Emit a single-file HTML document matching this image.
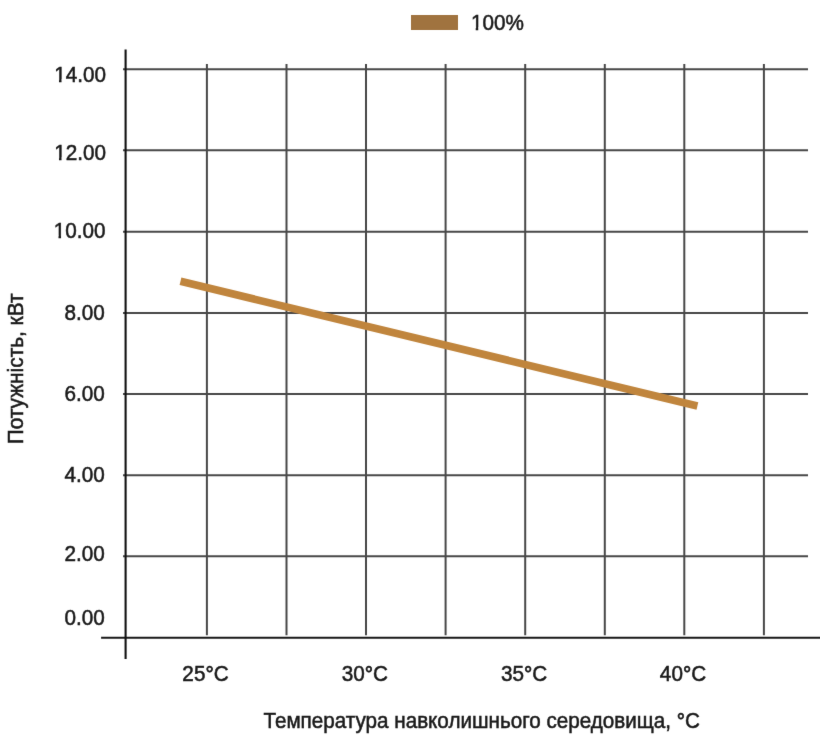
<!DOCTYPE html>
<html>
<head>
<meta charset="utf-8">
<style>
html,body{margin:0;padding:0;background:#fff;}
body{width:820px;height:739px;overflow:hidden;}
svg{display:block;}
text{font-family:"Liberation Sans",Arial,sans-serif;fill:#1a1a1a;stroke:#1a1a1a;stroke-width:0.55px;}
</style>
</head>
<body>
<svg width="820" height="739" viewBox="0 0 820 739">

<defs><filter id="soft" filterUnits="userSpaceOnUse" x="0" y="0" width="820" height="739" color-interpolation-filters="sRGB"><feConvolveMatrix order="3" kernelMatrix="0.00524 0.06192 0.00524 0.06192 0.73137 0.06192 0.00524 0.06192 0.00524" divisor="1" edgeMode="duplicate"/></filter></defs>
<g filter="url(#soft)">
<rect x="0" y="0" width="820" height="739" fill="#fff"/>
<rect x="411" y="15" width="47" height="15" fill="#a0733f"/>
<text transform="translate(470.9,30.0) scale(0.95,1)" text-anchor="start" font-size="21.8">100%</text>
<g stroke="#484848" stroke-width="2">
<line x1="123" y1="69.3" x2="808" y2="69.3"/>
<line x1="123" y1="150.3" x2="808" y2="150.3"/>
<line x1="123" y1="231.7" x2="808" y2="231.7"/>
<line x1="123" y1="312.9" x2="808" y2="312.9"/>
<line x1="123" y1="393.9" x2="808" y2="393.9"/>
<line x1="123" y1="475.2" x2="808" y2="475.2"/>
<line x1="123" y1="556.3" x2="808" y2="556.3"/>
</g>
<g stroke="#484848" stroke-width="2">
<line x1="206.9" y1="64" x2="206.9" y2="635.2"/>
<line x1="286.5" y1="64" x2="286.5" y2="635.2"/>
<line x1="366.0" y1="64" x2="366.0" y2="635.2"/>
<line x1="445.6" y1="64" x2="445.6" y2="635.2"/>
<line x1="525.2" y1="64" x2="525.2" y2="635.2"/>
<line x1="604.8" y1="64" x2="604.8" y2="635.2"/>
<line x1="684.3" y1="64" x2="684.3" y2="635.2"/>
<line x1="763.9" y1="64" x2="763.9" y2="635.2"/>
</g>
<line x1="101.1" y1="637.8" x2="822" y2="637.8" stroke="#181818" stroke-width="2"/>
<line x1="125.6" y1="49.5" x2="125.6" y2="659" stroke="#111" stroke-width="2.1"/>
<line x1="180.5" y1="281.3" x2="697.4" y2="406" stroke="#c0853d" stroke-width="7.6"/>
<text transform="translate(106,82) scale(0.95,1)" text-anchor="end" font-size="21.8">14.00</text>
<text transform="translate(106,160.1) scale(0.95,1)" text-anchor="end" font-size="21.8">12.00</text>
<text transform="translate(105.5,238.3) scale(0.95,1)" text-anchor="end" font-size="21.8">10.00</text>
<text transform="translate(104.8,319.6) scale(0.95,1)" text-anchor="end" font-size="21.8">8.00</text>
<text transform="translate(104.8,400.7) scale(0.95,1)" text-anchor="end" font-size="21.8">6.00</text>
<text transform="translate(104.8,482) scale(0.95,1)" text-anchor="end" font-size="21.8">4.00</text>
<text transform="translate(104.8,560.5) scale(0.95,1)" text-anchor="end" font-size="21.8">2.00</text>
<text transform="translate(104.8,625) scale(0.95,1)" text-anchor="end" font-size="21.8">0.00</text>
<rect x="54.60" y="79.35" width="4.39" height="4.42" fill="#fff"/>
<rect x="61.54" y="79.35" width="3.93" height="4.42" fill="#fff"/>
<rect x="54.60" y="157.45" width="4.39" height="4.42" fill="#fff"/>
<rect x="61.54" y="157.45" width="3.93" height="4.42" fill="#fff"/>
<rect x="54.10" y="235.65" width="4.39" height="4.42" fill="#fff"/>
<rect x="61.04" y="235.65" width="3.93" height="4.42" fill="#fff"/>
<rect x="471.31" y="27.35" width="4.39" height="4.42" fill="#fff"/>
<rect x="478.25" y="27.35" width="3.93" height="4.42" fill="#fff"/>
<text transform="translate(205.5,681.0) scale(0.95,1)" text-anchor="middle" font-size="21.8">25<tspan dy="1.1" style="stroke-width:0.75px">°</tspan><tspan dy="-1.1">C</tspan></text>
<text transform="translate(364.9,681.0) scale(0.95,1)" text-anchor="middle" font-size="21.8">30<tspan dy="1.1" style="stroke-width:0.75px">°</tspan><tspan dy="-1.1">C</tspan></text>
<text transform="translate(524.2,681.0) scale(0.95,1)" text-anchor="middle" font-size="21.8">35<tspan dy="1.1" style="stroke-width:0.75px">°</tspan><tspan dy="-1.1">C</tspan></text>
<text transform="translate(683,681.0) scale(0.95,1)" text-anchor="middle" font-size="21.8">40<tspan dy="1.1" style="stroke-width:0.75px">°</tspan><tspan dy="-1.1">C</tspan></text>
<text transform="translate(263.5,728.3) scale(0.91,1)" text-anchor="start" font-size="22.7">Температура навколишнього середовища, <tspan dy="1.1" style="stroke-width:0.75px">°</tspan><tspan dy="-1.1">C</tspan></text>
<text transform="translate(23.4,444.3) rotate(-90) scale(0.918,1)" font-size="22.7">Потужність, кВт</text>
</g>
</svg>
</body>
</html>
